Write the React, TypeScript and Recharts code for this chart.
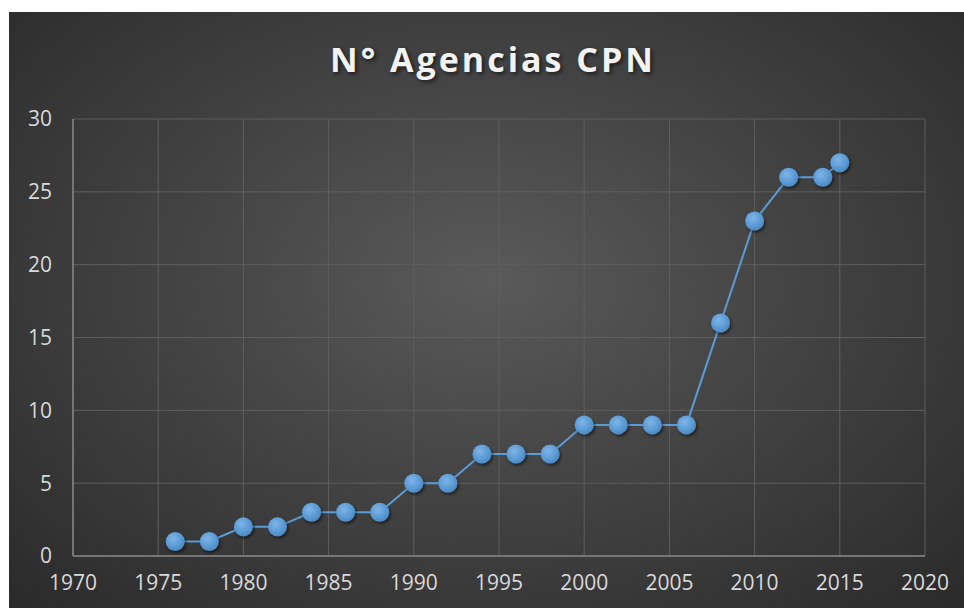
import React from "react";
import { LineChart, Line, XAxis, YAxis, CartesianGrid } from "recharts";

const years = [1976, 1978, 1980, 1982, 1984, 1986, 1988, 1990, 1992, 1994, 1996, 1998, 2000, 2002, 2004, 2006, 2008, 2010, 2012, 2014, 2015];
const agencias = [1, 1, 2, 2, 3, 3, 3, 5, 5, 7, 7, 7, 9, 9, 9, 9, 16, 23, 26, 26, 27];
const xTicks = [1970, 1975, 1980, 1985, 1990, 1995, 2000, 2005, 2010, 2015, 2020];
const yTicks = [0, 5, 10, 15, 20, 25, 30];

const data = years.map((year, i) => ({ year, value: agencias[i] }));

const FONT = "'Open Sans', 'Noto Sans', sans-serif";
const TICK = { fill: "#d9d9d9", fontSize: 21, fontFamily: FONT };

const Dot = (props: any) => {
  const { cx, cy, index } = props;
  if (cx == null || cy == null) return null;
  return (
    <circle
      key={`dot-${index}`}
      cx={cx}
      cy={cy}
      r={9.5}
      fill="url(#dotFill)"
      filter="url(#dotShadow)"
    />
  );
};

export default function App() {
  return (
    <div
      style={{
        position: "absolute",
        left: 9,
        top: 12,
        width: 955,
        height: 596,
        background:
          "radial-gradient(ellipse at 50% 45%, #5a5a5a 0%, #464646 40%, #2a2a2a 100%)",
        overflow: "hidden",
      }}
    >
      <div
        style={{
          position: "absolute",
          left: 0,
          top: 24,
          width: 968,
          textAlign: "center",
          color: "#f2f2f2",
          fontFamily: FONT,
          fontWeight: 700,
          fontSize: 34,
          letterSpacing: 3,
          textShadow: "2px 2px 4px rgba(0,0,0,0.6)",
        }}
      >
        N° Agencias CPN
      </div>
      <LineChart
        width={955}
        height={596}
        data={data}
        margin={{ top: 107, right: 39, bottom: 0, left: 0 }}
        style={{ position: "absolute", left: 0, top: 0 }}
      >
        <defs>
          <radialGradient id="dotFill" cx="40%" cy="35%" r="70%">
            <stop offset="0%" stopColor="#7fb4e6" />
            <stop offset="60%" stopColor="#5b9bd5" />
            <stop offset="100%" stopColor="#4a86c0" />
          </radialGradient>
          <filter id="dotShadow" x="-50%" y="-50%" width="200%" height="200%">
            <feDropShadow dx="1.5" dy="2" stdDeviation="1.5" floodColor="#000" floodOpacity="0.55" />
          </filter>
        </defs>
        <CartesianGrid stroke="#5e5e5e" strokeWidth={1} />
        <XAxis
          dataKey="year"
          type="number"
          domain={[1970, 2020]}
          ticks={xTicks}
          interval={0}
          height={52}
          tickSize={0}
          tickMargin={19}
          axisLine={{ stroke: "#858585", strokeWidth: 1.5 }}
          tickLine={false}
          tick={TICK}
        />
        <YAxis
          type="number"
          domain={[0, 30]}
          ticks={yTicks}
          interval={0}
          width={64}
          tickSize={0}
          tickMargin={21}
          axisLine={{ stroke: "#858585", strokeWidth: 1.5 }}
          tickLine={false}
          tick={TICK}
        />
        <Line
          type="linear"
          dataKey="value"
          stroke="#5b9bd5"
          strokeWidth={2}
          dot={<Dot />}
          activeDot={false}
          isAnimationActive={false}
        />
      </LineChart>
    </div>
  );
}
